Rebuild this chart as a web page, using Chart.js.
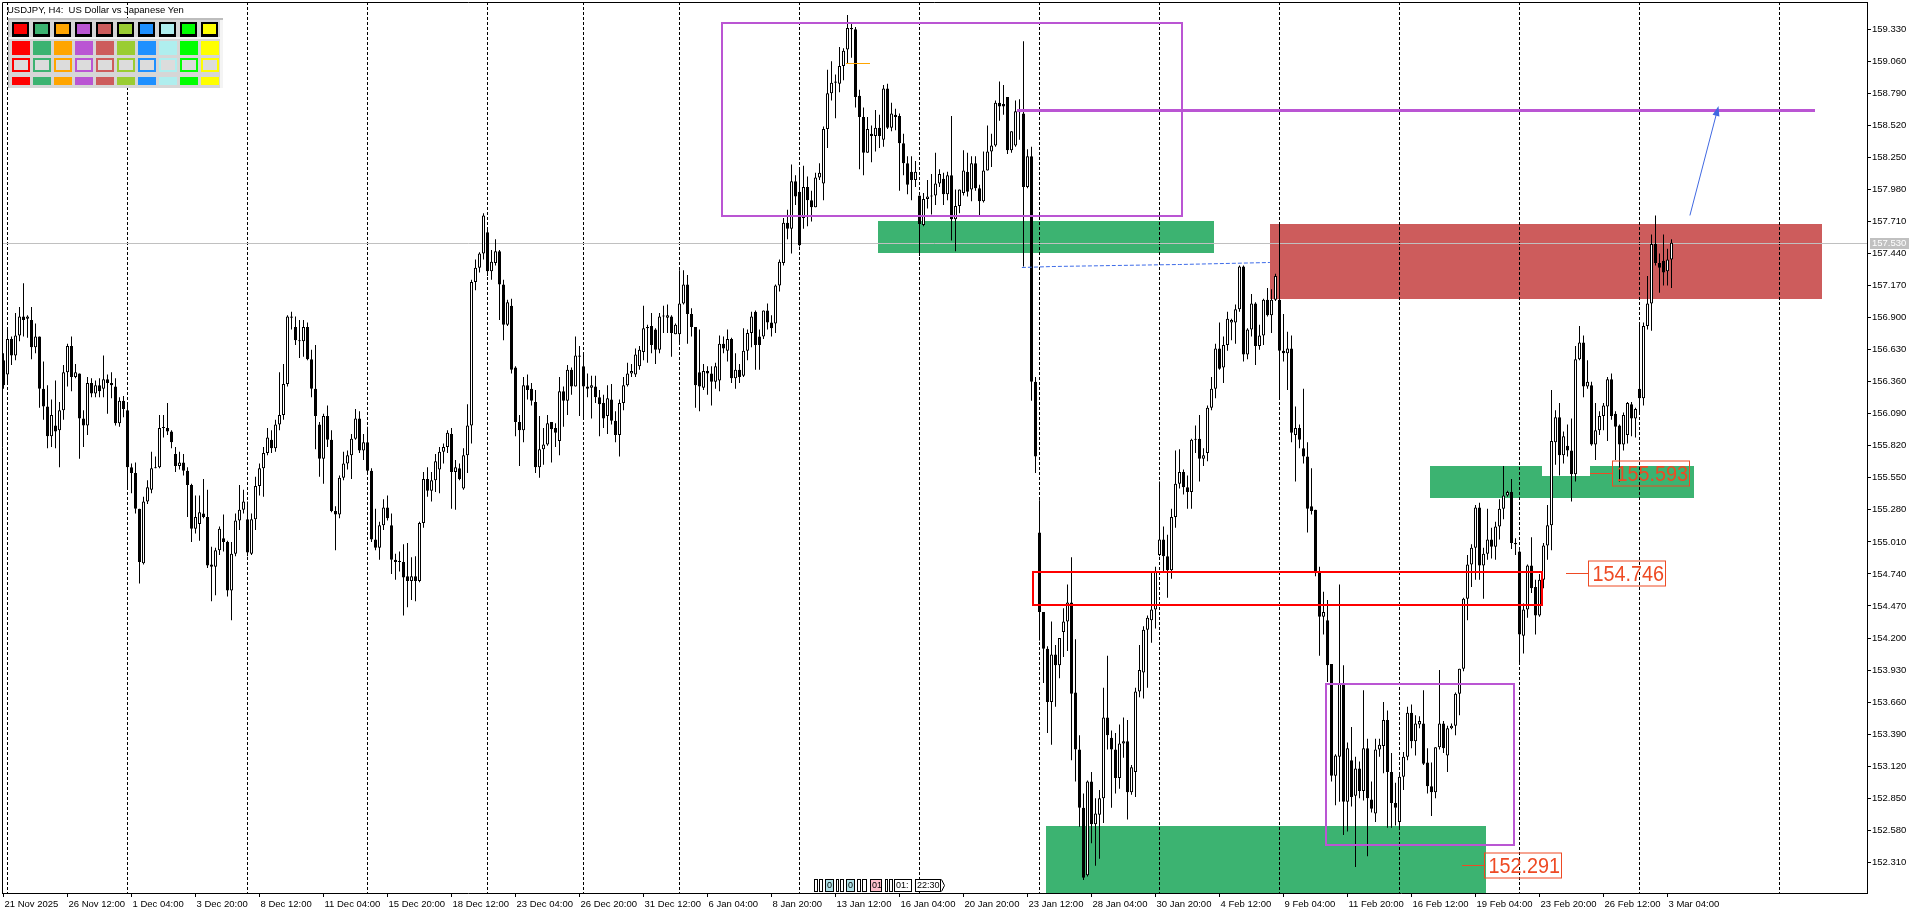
<!DOCTYPE html>
<html>
<head>
<meta charset="utf-8">
<title>USDJPY, H4</title>
<script src="https://cdn.jsdelivr.net/npm/chart.js@4.4.1/dist/chart.umd.min.js"></script>
<style>
  html, body { margin: 0; padding: 0; background: #fff; overflow: hidden; }
  canvas { display: block; }
</style>
</head>
<body>
<canvas id="chart" width="1920" height="915"></canvas>
<script>
// USDJPY H4, one entry per bar, bar 0 = Fri 21 Nov 2025 20:00
const opens = [
  156.54,156.42,156.72,156.58,156.75,156.91,156.89,156.88,156.65,156.74,
  156.30,156.15,155.90,155.99,155.95,156.12,156.44,156.66,156.40,156.43,
  156.05,155.99,156.35,156.26,156.33,156.30,156.38,156.35,156.32,156.01,
  156.20,156.12,155.64,155.59,155.29,154.83,155.35,155.45,155.63,155.64,
  155.97,155.97,155.94,155.75,155.65,155.68,155.61,155.49,155.12,155.16,
  155.25,155.22,154.82,154.80,154.94,155.04,155.01,154.60,154.91,155.19,
  155.28,155.20,154.91,155.20,155.48,155.63,155.76,155.87,155.80,156.00,
  156.08,156.34,156.91,156.82,156.71,156.70,156.82,156.55,156.30,156.00,
  155.71,156.07,155.87,155.27,155.24,155.55,155.67,155.74,155.88,156.05,
  155.78,155.85,155.61,155.03,154.96,155.15,155.30,155.15,154.86,154.84,
  154.84,154.72,154.68,154.72,154.68,155.17,155.54,155.44,155.53,155.62,
  155.77,155.81,155.92,155.60,155.63,155.46,155.74,155.99,157.20,157.32,
  157.44,157.62,157.29,157.36,157.46,157.18,156.84,157.00,156.48,156.02,
  155.95,156.33,156.30,156.19,155.64,155.79,155.83,156.02,155.97,155.86,
  156.28,156.20,156.46,156.32,156.58,156.49,156.32,156.31,156.32,156.23,
  156.18,156.07,156.21,156.03,155.91,156.18,156.33,156.43,156.42,156.49,
  156.61,156.81,156.83,156.80,156.63,156.91,156.90,156.91,156.76,156.76,
  157.02,157.18,156.93,156.82,156.44,156.31,156.45,156.43,156.36,156.37,
  156.68,156.62,156.72,156.39,156.46,156.41,156.62,156.77,156.95,156.74,
  156.74,156.96,156.86,156.85,157.17,157.36,157.70,157.65,158.05,157.96,
  157.74,158.00,157.89,157.83,158.08,158.03,158.49,158.79,158.88,158.87,
  159.02,159.16,159.34,159.33,158.77,158.59,158.29,158.45,158.43,158.50,
  158.40,158.83,158.50,158.61,158.60,158.37,158.20,158.13,158.06,157.93,
  157.68,157.90,157.92,157.93,158.03,158.07,157.94,158.10,157.73,157.84,
  157.95,158.13,157.98,158.20,157.99,157.88,158.14,158.30,158.35,158.71,
  158.70,158.76,158.31,158.35,158.64,158.62,158.00,158.26,156.36,155.09,
  154.42,154.11,153.66,154.06,153.97,154.25,154.34,154.50,153.74,153.26,
  152.77,152.20,152.99,152.63,152.71,152.85,153.53,153.36,153.26,153.02,
  153.31,153.33,152.90,153.07,153.75,153.91,154.27,154.35,154.44,154.90,
  155.03,154.89,154.77,155.22,155.50,155.60,155.47,155.43,155.87,155.88,
  155.71,155.76,156.14,156.30,156.64,156.48,156.67,156.86,156.86,156.97,
  157.33,156.59,156.80,157.02,156.66,156.75,157.05,156.92,157.05,157.05,
  156.62,156.60,156.64,155.91,155.97,155.80,155.73,155.31,155.28,154.76,
  154.38,154.35,153.98,153.04,153.20,153.82,152.82,153.17,152.87,153.10,
  152.91,153.27,152.84,152.72,153.26,153.29,153.51,153.07,152.81,152.65,
  153.03,153.20,153.57,153.33,153.47,153.48,153.15,152.95,152.90,153.28,
  153.48,153.21,153.44,153.46,153.73,153.94,154.53,154.82,154.96,155.30,
  154.81,154.91,155.03,154.97,155.14,155.29,155.40,155.43,155.00,154.93,
  154.22,154.44,154.81,154.63,154.39,154.69,154.98,155.15,155.85,156.06,
  155.74,155.82,155.78,155.58,156.55,156.69,156.32,156.33,155.83,155.95,
  156.07,156.15,156.38,156.09,155.99,155.83,155.91,156.17,156.05,156.30,
  156.22,156.83,157.02,157.52,157.36,157.38,157.29,157.39
];
const highs = [
  156.60,156.80,156.74,156.94,156.99,157.19,156.92,156.99,156.85,156.74,
  156.53,156.33,156.21,156.37,156.19,156.50,156.68,156.74,156.51,156.43,
  156.12,156.40,156.39,156.37,156.39,156.58,156.42,156.44,156.39,156.23,
  156.24,156.17,155.67,155.68,155.29,155.39,155.53,155.77,155.73,156.08,
  156.08,156.18,155.95,155.81,155.77,155.75,155.64,155.50,155.40,155.40,
  155.54,155.45,154.97,154.96,155.14,155.24,155.02,155.01,155.25,155.49,
  155.45,155.35,155.25,155.56,155.67,155.81,155.97,155.95,156.04,156.44,
  156.51,156.92,156.95,156.91,156.88,156.88,156.86,156.63,156.67,156.02,
  156.09,156.16,155.95,155.31,155.57,155.77,155.78,155.92,156.13,156.11,
  155.92,155.98,155.63,155.29,155.18,155.37,155.40,155.25,154.91,154.93,
  154.99,155.00,154.88,154.89,155.18,155.60,155.64,155.60,155.75,155.81,
  155.84,155.95,155.97,155.70,155.67,155.80,156.17,157.22,157.39,157.45,
  157.78,157.66,157.47,157.56,157.47,157.22,157.05,157.06,156.49,156.08,
  156.40,156.42,156.35,156.29,156.07,155.97,156.08,156.02,156.01,156.40,
  156.32,156.50,156.48,156.74,156.66,156.59,156.43,156.41,156.41,156.29,
  156.25,156.33,156.34,156.11,156.21,156.40,156.52,156.51,156.64,156.66,
  157.00,156.84,156.94,156.81,156.94,157.00,157.01,156.92,156.85,157.30,
  157.30,157.26,156.98,156.82,156.80,156.51,156.49,156.49,156.52,156.75,
  156.74,156.80,156.73,156.60,156.51,156.81,156.80,156.95,156.96,156.80,
  156.96,157.02,156.92,157.18,157.39,157.74,157.81,158.19,158.10,158.15,
  158.18,158.09,157.97,158.12,158.20,158.51,158.99,159.06,158.95,159.18,
  159.17,159.45,159.38,159.35,158.82,158.67,158.59,158.52,158.65,158.61,
  158.86,158.87,158.71,158.66,158.62,158.45,158.26,158.26,158.22,157.93,
  157.95,158.06,158.11,158.29,158.15,158.12,158.13,158.60,157.98,157.98,
  158.31,158.29,158.26,158.26,158.02,158.30,158.52,158.45,158.73,158.89,
  158.86,158.76,158.47,158.73,158.74,159.23,158.32,158.34,156.40,155.36,
  154.42,154.13,154.34,154.14,154.20,154.45,154.65,154.88,154.19,153.38,
  152.89,153.00,153.07,152.85,152.92,153.78,154.05,153.42,153.40,153.47,
  153.53,153.51,153.13,153.78,154.14,154.30,154.39,154.75,154.80,155.52,
  155.14,155.07,155.29,155.78,155.79,155.62,155.57,155.88,155.99,156.08,
  155.80,156.16,156.40,156.68,156.86,156.74,156.95,156.89,157.01,157.34,
  157.34,156.81,157.10,157.03,156.84,157.06,157.15,157.14,157.27,157.69,
  156.93,156.78,156.75,156.15,156.00,156.30,155.85,155.63,155.28,154.80,
  154.59,154.52,153.98,153.22,154.65,153.97,153.32,153.45,153.20,153.16,
  153.76,153.35,152.99,153.35,153.35,153.66,153.59,153.23,152.98,153.05,
  153.24,153.62,153.64,153.55,153.54,153.76,153.27,153.15,153.28,153.93,
  153.50,153.46,153.48,153.74,153.94,154.54,154.90,154.99,155.32,155.34,
  154.96,155.29,155.13,155.18,155.37,155.65,155.44,155.54,155.04,154.94,
  154.49,154.82,155.05,154.69,154.74,155.00,155.32,156.29,156.12,156.18,
  155.94,156.00,156.05,156.66,156.83,156.75,156.54,156.36,156.18,156.11,
  156.18,156.40,156.43,156.11,156.00,156.10,156.19,156.19,156.14,156.84,
  156.86,157.25,157.60,157.76,157.44,157.60,157.48,157.56
];
const lows = [
  156.30,156.35,156.50,156.54,156.70,156.74,156.73,156.55,156.60,156.14,
  156.04,155.80,155.81,155.80,155.64,156.04,156.32,156.28,156.39,155.71,
  155.81,155.91,156.23,156.23,156.23,156.23,156.09,156.22,155.99,155.98,
  156.06,155.47,155.42,155.25,154.66,154.82,155.33,155.42,155.63,155.63,
  155.89,155.91,155.80,155.60,155.62,155.57,155.22,155.01,155.08,155.02,
  155.21,154.79,154.51,154.56,154.90,154.93,154.55,154.35,154.89,155.11,
  155.25,154.89,154.90,155.11,155.40,155.39,155.74,155.76,155.77,155.95,
  156.04,156.32,156.80,156.67,156.56,156.57,156.54,156.23,155.79,155.56,
  155.50,155.81,155.26,154.94,155.21,155.53,155.62,155.54,155.87,155.76,
  155.70,155.59,155.01,154.94,154.86,155.11,155.19,154.74,154.69,154.76,
  154.39,154.46,154.52,154.51,154.67,155.13,155.39,155.35,155.43,155.42,
  155.67,155.76,155.29,155.28,155.53,155.45,155.59,155.84,157.13,157.28,
  157.39,157.25,157.22,157.34,156.88,156.71,156.83,156.43,155.90,155.65,
  155.85,156.21,156.16,155.59,155.55,155.66,155.82,155.68,155.81,155.74,
  155.98,156.08,156.25,156.32,156.07,156.05,156.23,156.05,156.18,155.90,
  155.97,155.92,156.00,155.85,155.73,156.12,156.32,156.40,156.40,156.46,
  156.54,156.52,156.60,156.51,156.60,156.77,156.77,156.57,156.76,156.68,
  157.01,156.68,156.74,156.14,156.11,156.29,156.25,156.16,156.30,156.28,
  156.60,156.53,156.35,156.30,156.35,156.40,156.54,156.65,156.46,156.46,
  156.72,156.80,156.74,156.77,157.12,157.34,157.56,157.44,157.85,157.50,
  157.65,157.67,157.71,157.83,158.06,157.89,158.33,158.73,158.58,158.80,
  158.90,159.04,159.09,158.67,158.15,158.10,158.29,158.21,158.30,158.33,
  158.34,158.49,158.47,158.48,157.97,158.10,157.94,157.89,158.00,157.42,
  157.67,157.82,157.77,157.85,158.00,157.85,157.89,157.55,157.46,157.78,
  157.93,157.92,157.88,157.97,157.75,157.87,158.14,158.17,158.34,158.56,
  158.61,158.28,158.29,158.34,158.40,157.33,157.99,156.20,155.59,154.18,
  153.82,153.40,153.30,153.62,153.86,154.04,154.09,153.17,152.99,152.61,
  152.16,152.19,152.47,152.28,152.34,152.64,153.26,152.77,152.89,152.93,
  153.19,152.67,152.88,152.86,153.70,153.69,153.78,154.16,154.28,154.89,
  154.76,154.54,154.70,155.13,155.46,155.41,155.29,155.29,155.76,155.52,
  155.65,155.69,156.12,156.22,156.46,156.35,156.62,156.71,156.68,156.95,
  156.53,156.55,156.74,156.50,156.63,156.67,156.91,156.77,157.04,156.21,
  156.53,156.29,155.85,155.52,155.80,155.67,155.09,155.24,154.72,154.05,
  154.23,153.83,152.99,152.79,152.82,152.54,152.57,152.78,152.27,152.85,
  152.83,152.36,152.73,152.65,153.20,153.06,152.60,152.60,152.62,152.60,
  152.92,153.17,153.27,153.21,153.44,153.13,152.89,152.70,152.85,153.26,
  153.23,153.07,153.43,153.38,153.55,153.92,154.35,154.63,154.69,154.69,
  154.53,154.86,154.87,154.86,155.03,155.20,155.39,154.95,154.90,153.98,
  154.07,154.37,154.58,154.23,154.38,154.62,154.86,154.94,155.66,155.57,
  155.67,155.73,155.35,155.52,156.54,156.23,156.30,155.82,155.70,155.91,
  155.95,155.86,156.04,155.70,155.52,155.78,155.84,155.90,155.89,156.10,
  156.16,156.80,156.79,157.34,157.11,157.17,157.17,157.15
];
const closes = [
  156.33,156.72,156.58,156.75,156.91,156.88,156.91,156.65,156.74,156.30,
  156.15,155.90,156.08,155.94,156.12,156.44,156.66,156.40,156.44,156.05,
  155.99,156.35,156.26,156.33,156.28,156.38,156.35,156.33,156.01,156.20,
  156.13,155.64,155.59,155.29,154.84,155.35,155.47,155.63,155.64,155.97,
  155.97,155.94,155.85,155.65,155.68,155.61,155.49,155.12,155.22,155.26,
  155.22,154.81,154.80,154.94,155.12,155.01,154.60,154.91,155.19,155.28,
  155.35,154.92,155.20,155.48,155.63,155.76,155.89,155.80,156.00,156.08,
  156.34,156.91,156.90,156.71,156.70,156.82,156.55,156.30,156.07,155.71,
  156.07,155.87,155.27,155.24,155.55,155.67,155.74,155.88,156.05,155.78,
  155.85,155.61,155.03,154.96,155.15,155.30,155.21,154.86,154.84,154.84,
  154.71,154.68,154.72,154.68,155.17,155.54,155.44,155.53,155.69,155.77,
  155.81,155.93,155.60,155.64,155.54,155.74,155.99,157.20,157.32,157.44,
  157.76,157.29,157.37,157.46,157.18,156.84,157.03,156.46,156.02,155.95,
  156.33,156.29,156.20,155.64,155.79,155.83,156.01,155.96,155.93,156.28,
  156.20,156.46,156.32,156.58,156.57,156.32,156.30,156.33,156.23,156.17,
  156.05,156.22,156.03,155.91,156.18,156.33,156.43,156.45,156.59,156.63,
  156.81,156.82,156.67,156.63,156.91,156.91,156.92,156.77,156.84,157.02,
  157.18,156.93,156.82,156.33,156.32,156.45,156.43,156.36,156.49,156.68,
  156.64,156.72,156.39,156.46,156.40,156.62,156.77,156.91,156.67,156.67,
  156.96,156.86,156.81,157.17,157.37,157.70,157.65,158.05,157.92,157.51,
  158.00,157.89,157.83,158.08,158.12,158.49,158.79,158.88,158.89,159.02,
  159.15,159.34,159.33,158.76,158.59,158.29,158.49,158.43,158.50,158.43,
  158.83,158.50,158.62,158.59,158.37,158.20,158.02,158.06,158.13,157.69,
  157.90,157.92,157.93,158.03,158.11,157.94,158.10,157.73,157.84,157.98,
  158.14,157.96,158.20,157.99,157.88,158.14,158.30,158.35,158.71,158.68,
  158.68,158.31,158.47,158.64,158.63,158.00,158.26,156.36,155.73,154.42,
  154.11,153.66,154.06,153.97,154.20,154.34,154.50,153.73,153.26,152.77,
  152.18,152.99,152.63,152.72,152.85,153.53,153.38,153.26,153.02,153.31,
  153.33,152.90,153.11,153.75,153.93,154.27,154.37,154.44,154.76,155.03,
  154.89,154.77,155.22,155.50,155.60,155.47,155.43,155.87,155.88,155.71,
  155.74,156.14,156.30,156.64,156.47,156.67,156.89,156.88,156.97,157.33,
  156.59,156.80,157.02,156.66,156.75,157.05,156.92,157.05,157.25,156.62,
  156.60,156.64,155.93,155.97,155.87,155.73,155.29,155.27,154.76,154.38,
  154.42,153.97,153.04,153.21,153.82,152.82,153.27,152.86,153.10,152.91,
  153.27,152.85,152.76,153.26,153.30,153.51,153.07,152.81,152.77,153.03,
  153.20,153.57,153.33,153.48,153.50,153.14,152.95,152.90,153.28,153.48,
  153.27,153.44,153.46,153.73,153.94,154.53,154.82,154.96,155.30,154.81,
  154.91,155.03,154.97,155.14,155.29,155.40,155.43,155.00,154.99,154.23,
  154.44,154.81,154.62,154.39,154.69,154.98,155.15,155.86,156.06,155.74,
  155.90,155.78,155.58,156.55,156.69,156.32,156.36,155.83,155.95,156.07,
  156.16,156.38,156.07,155.98,155.83,156.08,156.18,156.05,156.13,156.22,
  156.83,157.02,157.52,157.36,157.32,157.28,157.39,157.53
];

// time axis: bar index of each date label, and week starts (grid)
const dateTickBars = [0,16,32,48,64,80,96,112,128,144,160,176,192,208,224,240,256,272,288,304,320,336,352,368,384,400,416];
const dateLabels = [
  '21 Nov 2025','26 Nov 12:00','1 Dec 04:00','3 Dec 20:00','8 Dec 12:00','11 Dec 04:00',
  '15 Dec 20:00','18 Dec 12:00','23 Dec 04:00','26 Dec 20:00','31 Dec 12:00','6 Jan 04:00',
  '8 Jan 20:00','13 Jan 12:00','16 Jan 04:00','20 Jan 20:00','23 Jan 12:00','28 Jan 04:00',
  '30 Jan 20:00','4 Feb 12:00','9 Feb 04:00','11 Feb 20:00','16 Feb 12:00','19 Feb 04:00',
  '23 Feb 20:00','26 Feb 12:00','3 Mar 04:00'
];
const weekStartBars = [1,31,61,91,121,145,169,199,229,259,289,319,349,379,409,444];
const priceTicks = [
  152.31,152.58,152.85,153.12,153.39,153.66,153.93,154.20,154.47,154.74,155.01,155.28,155.55,155.82,
  156.09,156.36,156.63,156.90,157.17,157.44,157.71,157.98,158.25,158.52,158.79,159.06,159.33
];
const lastPrice = 157.530;

// chart objects (bar index / price)
const zones = [
  { from: 218.6, to: 302.6, top: 157.714, bottom: 157.447, color: '#3CB371' },
  { from: 316.6, to: 454.6, top: 157.689, bottom: 157.057, color: '#CD5C5C' },
  { from: 260.6, to: 370.6, top: 152.616, bottom: 151.800, color: '#3CB371' },
  { from: 356.6, to: 422.6, top: 155.650, bottom: 155.383, color: '#3CB371' },
  { from: 384.6, to: 396.6, top: 155.668, bottom: 155.567, color: '#FFFFFF' }
];
const boxes = [
  { from: 179.6, to: 294.6, top: 159.386, bottom: 157.757, color: '#BA55D3' },
  { from: 330.6, to: 377.6, top: 153.813, bottom: 152.456, color: '#BA55D3' },
  { from: 257.4, to: 384.6, top: 154.754, bottom: 154.481, color: '#FF0000' }
];
const levels = [
  { from: 253.5, to: 452.9, price: 158.647, color: '#BA55D3', width: 3 },
  { from: 210.6, to: 216.6, price: 159.043, color: '#FFA500', width: 1 }
];
const dashedPath = [[254.6, 157.329], [262.4, 157.337], [278.0, 157.343], [294.0, 157.354], [316.6, 157.368]];
const arrow = { from: [421.6, 157.761], to: [428.75, 158.684] };
const priceTags = [
  { value: 154.746, lineFrom: 390.6, boxAt: 396.1 },
  { value: 155.593, lineFrom: 396.6, boxAt: 402.1 },
  { value: 152.291, lineFrom: 364.6, boxAt: 370.1 }
];
const paletteColors = ['#FF0000','#3CB371','#FFA500','#BA55D3','#CD5C5C','#9ACD32','#1E90FF','#AFEEEE','#00FF00','#FFFF00'];

const FONT = "'Liberation Sans', Arial, sans-serif";
const TAG_COLOR = '#EE4A24';

function drawPalette(ctx) {
  ctx.fillStyle = '#D6D6D6';
  ctx.fillRect(8, 18, 215, 70);
  ctx.fillStyle = '#BDBDBD';
  ctx.fillRect(8, 18, 215, 2);
  ctx.fillRect(8, 18, 1, 70);
  ctx.fillStyle = '#F4F4F4';
  ctx.fillRect(9, 37, 214, 2);
  ctx.fillRect(220, 20, 3, 68);
  paletteColors.forEach((c, k) => {
    const x0 = Math.round(11.7 + 21.05 * k);
    ctx.fillStyle = '#000';
    ctx.fillRect(x0, 22, 17, 15);
    ctx.fillStyle = c;
    ctx.fillRect(x0 + 2, 24, 13, 10);
    ctx.fillRect(x0, 41, 18, 14);
    ctx.fillStyle = '#DCDCDC';
    ctx.fillRect(x0, 58, 18, 14);
    ctx.strokeStyle = c;
    ctx.lineWidth = 2;
    ctx.strokeRect(x0 + 1, 59, 16, 12);
    ctx.fillStyle = c;
    ctx.fillRect(x0, 77, 18, 8);
  });
}

function drawScrollWidget(ctx) {
  const items = [
    { x: 814, w: 4, t: '', bg: '#fff' }, { x: 819, w: 4, t: '', bg: '#fff' },
    { x: 825, w: 9, t: '0', bg: '#B0E0E6' },
    { x: 836, w: 3, t: '', bg: '#fff' }, { x: 840, w: 4, t: '', bg: '#fff' },
    { x: 846, w: 9, t: '0', bg: '#B0E0E6' },
    { x: 857, w: 4, t: '', bg: '#fff' }, { x: 862, w: 5, t: '', bg: '#fff' },
    { x: 870, w: 12, t: '01', bg: '#FFC0CB' },
    { x: 885, w: 3, t: '', bg: '#fff' }, { x: 889, w: 4, t: '', bg: '#fff' },
    { x: 894, w: 18, t: '01:', bg: '#fff' },
    { x: 915, w: 26, t: '22:30', bg: '#fff' }
  ];
  ctx.save();
  ctx.font = '9px ' + FONT;
  ctx.textBaseline = 'middle';
  ctx.textAlign = 'left';
  items.forEach(it => {
    ctx.fillStyle = it.bg;
    ctx.fillRect(it.x, 879, it.w, 13);
    ctx.strokeStyle = '#000';
    ctx.lineWidth = 1;
    ctx.strokeRect(it.x + 0.5, 879.5, it.w - 1, 12);
    if (it.t) {
      ctx.fillStyle = '#000';
      ctx.fillText(it.t, it.x + 2, 886);
    }
  });
  ctx.beginPath();
  ctx.moveTo(941.5, 879.5);
  ctx.lineTo(944.5, 885.5);
  ctx.lineTo(941.5, 891.5);
  ctx.stroke();
  ctx.restore();
}

const mtPlugin = {
  id: 'mtObjects',
  beforeDatasetsDraw(chart) {
    const { ctx, chartArea: a, scales: { x, y } } = chart;
    ctx.save();
    ctx.beginPath();
    ctx.rect(a.left, a.top, a.right - a.left, a.bottom - a.top);
    ctx.clip();

    zones.forEach(z => {
      const x0 = Math.round(x.getPixelForValue(z.from));
      const x1 = Math.round(x.getPixelForValue(z.to));
      const y0 = Math.round(y.getPixelForValue(z.top));
      const y1 = Math.round(y.getPixelForValue(z.bottom));
      ctx.fillStyle = z.color;
      ctx.fillRect(x0, y0, x1 - x0, y1 - y0);
    });

    ctx.strokeStyle = '#000';
    ctx.lineWidth = 1;
    ctx.setLineDash([3, 2]);
    weekStartBars.forEach(b => {
      const gx = Math.floor(x.getPixelForValue(b)) + 0.5;
      ctx.beginPath();
      ctx.moveTo(gx, a.top);
      ctx.lineTo(gx, a.bottom);
      ctx.stroke();
    });
    ctx.setLineDash([]);

    const by = Math.round(y.getPixelForValue(lastPrice)) + 0.5;
    ctx.strokeStyle = '#C0C0C0';
    ctx.beginPath();
    ctx.moveTo(a.left, by);
    ctx.lineTo(a.right, by);
    ctx.stroke();
    ctx.restore();
  },
  afterDatasetsDraw(chart) {
    const { ctx, chartArea: a, scales: { x, y } } = chart;
    ctx.save();
    ctx.beginPath();
    ctx.rect(a.left, a.top, a.right - a.left, a.bottom - a.top);
    ctx.clip();

    boxes.forEach(b => {
      const x0 = Math.round(x.getPixelForValue(b.from));
      const x1 = Math.round(x.getPixelForValue(b.to));
      const y0 = Math.round(y.getPixelForValue(b.top));
      const y1 = Math.round(y.getPixelForValue(b.bottom));
      ctx.strokeStyle = b.color;
      ctx.lineWidth = 2;
      ctx.strokeRect(x0, y0, x1 - x0, y1 - y0);
    });

    levels.forEach(l => {
      const ly = Math.round(y.getPixelForValue(l.price)) + (l.width % 2 ? 0.5 : 0);
      ctx.strokeStyle = l.color;
      ctx.lineWidth = l.width;
      ctx.beginPath();
      ctx.moveTo(Math.round(x.getPixelForValue(l.from)), ly);
      ctx.lineTo(Math.round(x.getPixelForValue(l.to)), ly);
      ctx.stroke();
    });

    ctx.strokeStyle = '#3D6BE8';
    ctx.lineWidth = 1;
    ctx.setLineDash([4, 2]);
    ctx.beginPath();
    dashedPath.forEach(([b, p], i) => {
      const px = x.getPixelForValue(b);
      const py = Math.round(y.getPixelForValue(p)) + 0.5;
      if (i === 0) ctx.moveTo(px, py); else ctx.lineTo(px, py);
    });
    ctx.stroke();
    ctx.setLineDash([]);

    // trend arrow
    const ax0 = x.getPixelForValue(arrow.from[0]), ay0 = y.getPixelForValue(arrow.from[1]);
    const ax1 = x.getPixelForValue(arrow.to[0]), ay1 = y.getPixelForValue(arrow.to[1]);
    const ang = Math.atan2(ay1 - ay0, ax1 - ax0);
    ctx.strokeStyle = '#4169E1';
    ctx.fillStyle = '#4169E1';
    ctx.beginPath();
    ctx.moveTo(ax0, ay0);
    ctx.lineTo(ax1 - 6 * Math.cos(ang), ay1 - 6 * Math.sin(ang));
    ctx.stroke();
    ctx.beginPath();
    ctx.moveTo(ax1, ay1);
    ctx.lineTo(ax1 - 10 * Math.cos(ang) + 3.5 * Math.sin(ang), ay1 - 10 * Math.sin(ang) - 3.5 * Math.cos(ang));
    ctx.lineTo(ax1 - 10 * Math.cos(ang) - 3.5 * Math.sin(ang), ay1 - 10 * Math.sin(ang) + 3.5 * Math.cos(ang));
    ctx.closePath();
    ctx.fill();

    // price tags
    priceTags.forEach(t => {
      const ty = Math.round(y.getPixelForValue(t.value)) + 0.5;
      const lx = Math.round(x.getPixelForValue(t.lineFrom));
      const bx = Math.round(x.getPixelForValue(t.boxAt)) + 0.5;
      ctx.strokeStyle = TAG_COLOR;
      ctx.lineWidth = 1;
      ctx.beginPath();
      ctx.moveTo(lx, ty);
      ctx.lineTo(bx, ty);
      ctx.stroke();
      ctx.strokeRect(bx, ty - 12.5, 77, 25);
      ctx.save();
      ctx.translate(bx + 4, ty + 1);
      ctx.scale(0.88, 1);
      ctx.font = '22.5px ' + FONT;
      ctx.textBaseline = 'middle';
      ctx.textAlign = 'left';
      ctx.fillStyle = TAG_COLOR;
      ctx.fillText(t.value.toFixed(3), 0, 0);
      ctx.restore();
    });
    ctx.restore();
  },
  afterDraw(chart) {
    const { ctx, chartArea: a, scales: { y } } = chart;
    ctx.save();
    // frame top / left
    ctx.strokeStyle = '#000';
    ctx.lineWidth = 1;
    ctx.beginPath();
    ctx.moveTo(a.left + 0.5, a.bottom);
    ctx.lineTo(a.left + 0.5, a.top + 0.5);
    ctx.lineTo(a.right, a.top + 0.5);
    ctx.stroke();

    // bid badge on price axis
    const by = Math.round(y.getPixelForValue(lastPrice));
    ctx.fillStyle = '#C0C0C0';
    ctx.fillRect(a.right + 3, by - 5, 39, 11);
    ctx.fillStyle = '#FFFFFF';
    ctx.font = '9.5px ' + FONT;
    ctx.textBaseline = 'middle';
    ctx.textAlign = 'left';
    ctx.fillText(lastPrice.toFixed(3), a.right + 5, by + 0.5);

    // title
    ctx.fillStyle = '#000';
    ctx.fillText('USDJPY, H4:  US Dollar vs Japanese Yen', 7, 10);

    drawPalette(ctx);
    drawScrollWidget(ctx);
    ctx.restore();
  }
};

Chart.defaults.font.family = FONT;
Chart.defaults.font.size = 9.5;
Chart.defaults.color = '#000';

new Chart(document.getElementById('chart'), {
  type: 'bar',
  data: {
    datasets: [
      {
        label: 'bodies',
        data: opens.map((o, i) => ({ x: i, y: [o, closes[i]] })),
        backgroundColor: opens.map((o, i) => closes[i] >= o ? '#FFFFFF' : '#000000'),
        borderColor: '#000000',
        borderWidth: 1,
        borderSkipped: false,
        barThickness: 3,
        minBarLength: 1,
        inflateAmount: 0,
        grouped: false,
        order: 0
      },
      {
        label: 'wicks',
        data: highs.map((h, i) => ({ x: i, y: [lows[i], h] })),
        backgroundColor: '#000000',
        borderWidth: 0,
        barThickness: 1,
        minBarLength: 1,
        inflateAmount: 0,
        grouped: false,
        order: 1
      }
    ]
  },
  options: {
    responsive: false,
    animation: false,
    devicePixelRatio: 1,
    events: [],
    layout: { padding: { left: 2, top: 2, right: 0, bottom: 0 } },
    plugins: { legend: { display: false }, tooltip: { enabled: false } },
    scales: {
      x: {
        type: 'linear',
        position: 'bottom',
        min: -0.375,
        max: 465.875,
        offset: false,
        grid: { display: true, offset: false, drawOnChartArea: false, drawTicks: true, tickLength: 4, color: '#000' },
        border: { display: true, color: '#000', width: 1 },
        ticks: {
          autoSkip: false,
          maxRotation: 0,
          minRotation: 0,
          align: 'start',
          padding: 2,
          labelOffset: 1,
          callback: (v, idx) => dateLabels[idx]
        },
        afterBuildTicks: s => { s.ticks = dateTickBars.map(v => ({ value: v })); },
        afterFit: s => { s.height = 22; s.paddingLeft = 0; s.paddingRight = 0; }
      },
      y: {
        type: 'linear',
        position: 'right',
        min: 152.051,
        max: 159.560,
        grid: { display: true, drawOnChartArea: false, drawTicks: true, tickLength: 4, color: '#000' },
        border: { display: true, color: '#000', width: 1 },
        ticks: { padding: 1, callback: v => v.toFixed(3) },
        afterBuildTicks: s => { s.ticks = priceTicks.map(v => ({ value: v })); },
        afterFit: s => { s.width = 53; s.paddingTop = 0; s.paddingBottom = 0; }
      }
    }
  },
  plugins: [mtPlugin]
});
</script>
</body>
</html>
